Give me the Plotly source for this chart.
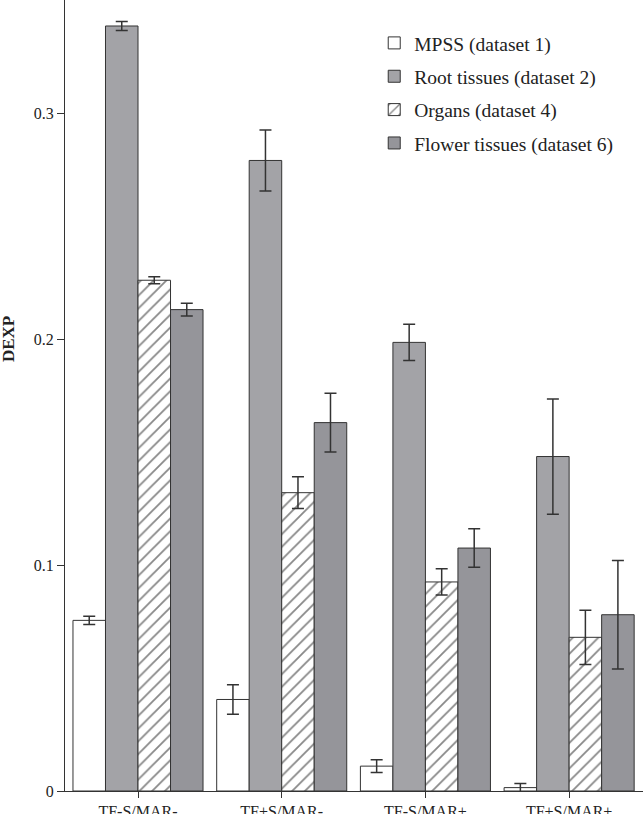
import plotly.graph_objects as go

categories = ["TF-S/MAR-", "TF+S/MAR-", "TF-S/MAR+", "TF+S/MAR+"]

series_names = ["MPSS (dataset 1)", "Root tissues (dataset 2)",
                "Organs (dataset 4)", "Flower tissues (dataset 6)"]

mpss = [0.0755, 0.0405, 0.0110, 0.0015]
mpss_err = [0.0018, 0.0065, 0.0028, 0.0018]

root = [0.3385, 0.2790, 0.1985, 0.1480]
root_err = [0.0020, 0.0135, 0.0080, 0.0255]

organs = [0.2260, 0.1320, 0.0925, 0.0680]
organs_err = [0.0015, 0.0070, 0.0058, 0.0120]

flower = [0.2130, 0.1630, 0.1075, 0.0780]
flower_err = [0.0028, 0.0130, 0.0085, 0.0240]

values = [mpss, root, organs, flower]
errors = [mpss_err, root_err, organs_err, flower_err]
fills = ["#ffffff", "#a3a3a7", "#ffffff", "#95959a"]
patterns = [None, None, "/", None]

FONT = "Times New Roman, Liberation Serif, DejaVu Serif, serif"
INK = "#333333"

fig = go.Figure()
for i in range(4):
    marker = dict(color=fills[i], line=dict(color=INK, width=1))
    if patterns[i]:
        marker["pattern"] = dict(shape=patterns[i], fgcolor="#111111", bgcolor="#ffffff",
                                 size=9, solidity=0.2)
    fig.add_trace(go.Bar(
        x=categories, y=values[i], name=series_names[i],
        marker=marker, legendgroup=f"g{i}",
        error_y=dict(type="data", array=errors[i], visible=True,
                     color=INK, thickness=1.5, width=6),
    ))

fig.update_layout(
    width=643, height=814,
    margin=dict(l=65, r=0, t=0, b=23, autoexpand=False),
    paper_bgcolor="white", plot_bgcolor="white",
    barmode="group", bargap=0.095, bargroupgap=0,
    font=dict(family=FONT, color="#222222", size=16),
    legend=dict(x=0.535, y=0.97, xanchor="left", yanchor="top",
                font=dict(family=FONT, size=19.5, color="#222222"),
                traceorder="grouped", tracegroupgap=5,
                bgcolor="rgba(0,0,0,0)"),
    showlegend=True,
)
fig.update_xaxes(
    type="category", range=[-0.508, 3.514], automargin=False,
    showline=True, linecolor=INK, linewidth=1.2,
    ticks="outside", ticklen=6, tickcolor=INK, tickwidth=1.2,
    tickfont=dict(family=FONT, size=16, color="#222222"),
    showgrid=False, zeroline=False,
)
fig.update_yaxes(
    range=[0, 0.35], automargin=False,
    tickvals=[0, 0.1, 0.2, 0.3], ticktext=["0", "0.1", "0.2", "0.3"],
    showline=True, linecolor=INK, linewidth=1.2,
    ticks="outside", ticklen=7, tickcolor=INK, tickwidth=1.2,
    tickfont=dict(family=FONT, size=16, color="#222222"),
    showgrid=False, zeroline=False,
)
fig.add_annotation(
    text="<b>DEXP</b>", xref="paper", yref="paper",
    x=-0.0986, y=0.5714, textangle=-90, showarrow=False,
    font=dict(family=FONT, size=17, color="#222222"),
    xanchor="center", yanchor="middle",
)

fig.write_html("out.html", config={"displayModeBar": False},
               post_script="document.body.style.margin='0px';")
